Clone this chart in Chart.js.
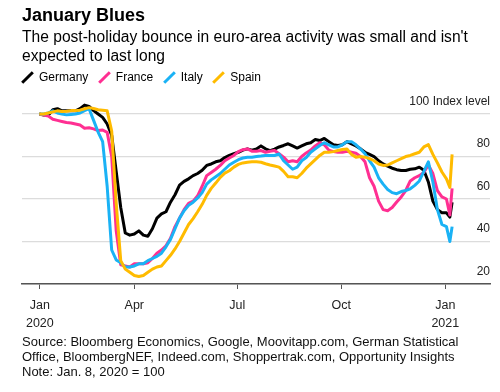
<!DOCTYPE html>
<html>
<head>
<meta charset="utf-8">
<script src="https://cdn.jsdelivr.net/npm/chart.js@4"></script>
<style>
  html, body { margin: 0; padding: 0; background: #fff; }
  #wrap { position: relative; width: 500px; height: 392px; overflow: hidden; font-family: "Liberation Sans", Arial, sans-serif; color: #000; }
  #chart { position: absolute; left: 0; top: 0; }
  .title { position: absolute; left: 22px; top: 5px; font-size: 18px; font-weight: bold; }
  .sub { position: absolute; left: 22px; top: 27px; font-size: 15.6px; line-height: 19px; width: 476px; }
  .legend { position: absolute; left: 22px; top: 69px; display: flex; align-items: center; font-size: 12px; height: 16px; }
  .legend .item { display: flex; align-items: center; margin-right: 10.5px; }
  .legend .mark { position: relative; width: 11px; height: 11px; margin-right: 6px; }
  .legend .mark span { position: absolute; left: 4px; top: -2px; width: 3px; height: 15px; transform: rotate(45deg); }
  .source { position: absolute; left: 22px; top: 334px; font-size: 13px; line-height: 15px; color: #111; }
</style>
</head>
<body>
<div id="wrap">
  <canvas id="chart" width="500" height="392"></canvas>
  <div class="title">January Blues</div>
  <div class="sub">The post-holiday bounce in euro-area activity was small and isn't expected to last long</div>
  <div class="legend" id="legend"></div>
  <div class="source">Source: Bloomberg Economics, Google, Moovitapp.com, German Statistical<br>Office, BloombergNEF, Indeed.com, Shoppertrak.com, Opportunity Insights<br>Note: Jan. 8, 2020 = 100</div>
</div>
<script>
// days since Jan 1, 2020 (every 4 days from Jan 8, plus the last readings)
let days = [];
for (let d = 7; d <= 367; d += 4) days.push(d);
days.push(370, 372);

let countries = ["Germany", "France", "Italy", "Spain"];
let colors = ["#000000", "#ff2f92", "#1ab2f5", "#ffbb00"];

let germany = [100, 99.5, 99.5, 102, 102.5, 101.5, 101.5, 101.5, 101.5, 102.5,
  104.2, 103.6, 101.6, 100, 98.4, 95.3, 90, 73, 56, 44,
  43, 43.5, 45, 43, 42.5, 46, 51, 53, 54, 58.5,
  62, 66.5, 68.3, 69.5, 71, 72, 73.5, 75.8, 76.5, 77.5,
  78, 79.5, 80.5, 81.3, 82, 83, 83.6, 83, 83.5, 85,
  83.6, 82.8, 83.5, 84.5, 85.2, 86, 85, 84, 85, 86,
  86.5, 88, 87.5, 88.5, 87, 85.5, 85.2, 85.5, 87, 86,
  85, 83.6, 82, 81, 80, 78, 76.5, 75.5, 74.5, 73.8,
  73.4, 73.4, 74, 74.2, 75, 73.5, 68, 59, 55, 53.5,
  53.5, 51.5, 58.5];

let france = [100, 99.5, 99, 97.5, 97, 96.5, 96, 95.8, 95.3, 94.8,
  93.3, 93.5, 93, 92.2, 92.5, 91.4, 80, 45, 29, 28.5,
  28, 29.5, 29.5, 29.5, 30, 32, 34.5, 36, 38, 41.5,
  47, 51, 55, 58, 59, 61.5, 66, 71, 72.5, 74,
  75.8, 78, 79.3, 80.5, 82.3, 83.2, 83.6, 82.5, 82.5, 82.8,
  82, 82.5, 82.8, 81.3, 79.7, 77.5, 78, 77.5, 80, 81.7,
  83, 85, 86.5, 85.5, 83, 82.3, 82, 82, 82.5, 82,
  81.5, 80, 77.5, 70, 66, 59, 55, 54.5, 56, 58.6,
  61, 64, 68.5, 70, 71, 72.5, 76, 72, 64, 61,
  60, 52.5, 65];

let italy = [100, 100, 100.5, 101.5, 100.5, 100, 99.6, 99.8, 100, 100.5,
  101.6, 102.5, 97, 91.5, 87, 66, 36, 31.3, 30, 28,
  28, 28.5, 29.5, 29.5, 31, 32, 33, 34.5, 37.5, 41,
  46, 51, 54.5, 57, 58.5, 60.5, 63, 67, 69, 70.5,
  72, 74, 76, 77.3, 78.5, 79.3, 79.7, 79.7, 80, 80.2,
  80.5, 80.5, 80.5, 81.2, 78, 76, 74, 75, 78, 79.5,
  82, 83.6, 85.2, 86.5, 85.5, 84.5, 84.5, 85.5, 87, 87,
  85.5, 83.5, 81.3, 78, 75, 70, 67, 64.5, 63, 62.5,
  63.5, 64, 64.8, 66.4, 68.5, 73, 77.5, 68, 55, 48,
  47, 40, 47];

let spain = [100, 100, 100.5, 101, 101.5, 101.2, 101.3, 101.6, 101.6, 101.8,
  102.5, 103, 102.6, 102, 101.8, 101.5, 92, 58, 31, 27,
  25.5, 24, 23.5, 24, 25.5, 27, 28, 28.5, 31, 33.5,
  36.5, 40, 44, 48, 50.8, 54, 57.5, 61.7, 65, 67.5,
  70.2, 72.2, 73.3, 75, 76.3, 77, 77.3, 77.5, 77.5, 77.3,
  76.6, 76, 75.5, 75, 73, 70.5, 70.5, 70, 72, 74.5,
  76.5, 78.5, 80.5, 82, 82, 82.3, 82.8, 83.3, 83.5, 81,
  79.7, 80, 79.7, 79, 78, 76.5, 75.8, 76, 77, 78,
  79, 80, 80.5, 81.3, 82, 84.5, 85.6, 81, 77, 72.7,
  69.5, 65.5, 81];

let tickDays = [7.5, 91, 182, 274, 366];
let tickLabels = [["Jan", "2020"], "Apr", "Jul", "Oct", ["Jan", "2021"]];
let yTicks = [20, 40, 60, 80, 100];

let series = [germany, france, italy, spain];

// legend
let legend = document.getElementById("legend");
countries.forEach(function(name, i) {
    let item = document.createElement("div");
    item.className = "item";
    item.innerHTML = '<div class="mark"><span style="background:' + colors[i] + '"></span></div>' + name;
    legend.appendChild(item);
});

let datasets = series.map(function(values, i) {
    return {
        label: countries[i],
        data: days.map((d, j) => ({ x: d, y: values[j] })),
        borderColor: colors[i],
        borderWidth: 3,
        pointRadius: 0,
        tension: 0,
        borderJoinStyle: "round",
        order: 3 - i
    };
});

let ctx = document.getElementById("chart").getContext("2d");
new Chart(ctx, {
    type: "line",
    data: { datasets: datasets },
    options: {
        responsive: false,
        animation: false,
        layout: { padding: { top: 100, left: 22, right: 10, bottom: 50 } },
        plugins: { legend: { display: false }, tooltip: { enabled: false } },
        scales: {
            x: {
                type: "linear",
                min: -8.3,
                max: 405.5,
                afterBuildTicks: function(scale) {
                    scale.ticks = tickDays.map(v => ({ value: v }));
                },
                afterFit: function(scale) { scale.height = 58; },
                grid: { drawOnChartArea: false, drawTicks: true, tickLength: 5, color: "#555", lineWidth: 1 },
                border: { display: true, color: "#555", width: 1.5 },
                ticks: {
                    padding: 7,
                    maxRotation: 0,
                    autoSkip: false,
                    color: "#222",
                    font: { family: "Liberation Sans", size: 12.5, lineHeight: 1.45 },
                    callback: function(value, index) { return tickLabels[index]; }
                }
            },
            y: {
                position: "right",
                min: 20,
                max: 106.6,
                afterBuildTicks: function(scale) {
                    scale.ticks = yTicks.map(v => ({ value: v }));
                },
                afterFit: function(scale) { scale.width = 0; },
                grid: { color: "#dcdcdc", lineWidth: 1.3, drawTicks: false },
                border: { display: false },
                ticks: {
                    mirror: true,
                    padding: 0,
                    labelOffset: -12.5,
                    color: "#222",
                    font: { family: "Liberation Sans", size: 12 },
                    callback: function(value) { return value === 100 ? "100 Index level" : value; }
                }
            }
        }
    }
});
</script>
</body>
</html>
